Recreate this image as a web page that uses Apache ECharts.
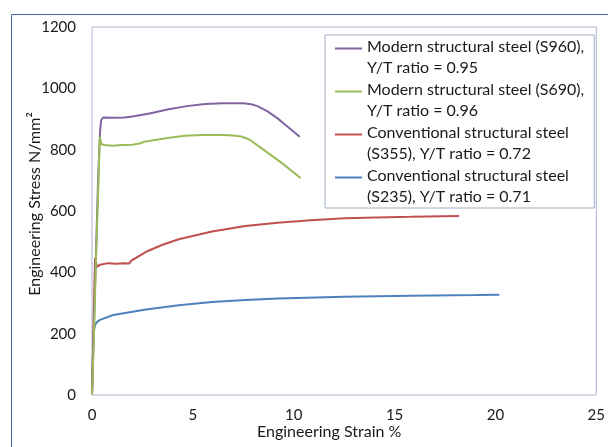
<!DOCTYPE html>
<html>
<head>
<meta charset="utf-8">
<script src="https://cdn.jsdelivr.net/npm/echarts@6/dist/echarts.min.js"></script>
<style>
  html, body { margin: 0; padding: 0; background: #fff; }
  #main { width: 608px; height: 447px; }
</style>
</head>
<body>
<div id="main"></div>
<script>
  // engineering strain (%) and stress (N/mm2)
  var s960Strain = [0, 0.3, 0.4, 0.45, 0.55, 1.0, 1.6, 2.0, 2.85, 3.8, 4.7, 5.6, 6.5, 7.5, 7.9, 8.2, 8.7, 9.2, 9.7, 10.3];
  var s960Stress = [0, 700, 860, 895, 905, 904, 905, 908, 918, 932, 942, 949, 951, 951, 948, 942, 925, 902, 875, 842];

  var s690Strain = [0, 0.1, 0.2, 0.3, 0.39, 0.47, 0.6, 1.0, 1.5, 2.0, 2.35, 2.6, 3.66, 4.6, 5.5, 6.5, 7.0, 7.4, 7.8, 8.5, 9.5, 10.35];
  var s690Stress = [0, 200, 450, 650, 842, 818, 815, 813, 815, 816, 820, 826, 837, 845, 848, 848, 846, 843, 833, 800, 752, 707];

  var s355Strain = [0, 0.1, 0.15, 0.25, 0.4, 0.8, 1.2, 1.6, 1.85, 1.95, 2.3, 2.68, 3.5, 4.3, 5.95, 7.6, 9.2, 10.85, 12.5, 14.1, 15.8, 18.2];
  var s355Stress = [0, 300, 447, 418, 425, 430, 428, 430, 429, 438, 452, 467, 490, 508, 533, 551, 562, 570, 576, 579, 581, 584];

  var s235Strain = [0, 0.05, 0.1, 0.15, 0.25, 0.39, 1.05, 2.68, 4.3, 5.95, 7.6, 9.2, 12.5, 15.8, 19.0, 20.2];
  var s235Stress = [0, 147, 212, 228, 238, 245, 261, 279, 293, 303, 310, 315, 320, 324, 326, 327];

  var seriesNames = [
    'Modern structural steel (S960),\nY/T ratio = 0.95',
    'Modern structural steel (S690),\nY/T ratio = 0.96',
    'Conventional structural steel\n(S355), Y/T ratio = 0.72',
    'Conventional structural steel\n(S235), Y/T ratio = 0.71'
  ];
  var seriesColors = ['#8064a2', '#9bbb59', '#c0504d', '#4f81bd'];
  var xTicks = [0, 5, 10, 15, 20, 25];
  var yTicks = [0, 200, 400, 600, 800, 1000, 1200];

  function pairs(xs, ys) {
    var out = [];
    for (var i = 0; i < xs.length; i++) out.push([xs[i], ys[i]]);
    return out;
  }

  var curves = [
    pairs(s960Strain, s960Stress),
    pairs(s690Strain, s690Stress),
    pairs(s355Strain, s355Stress),
    pairs(s235Strain, s235Stress)
  ];

  var font = 'Lato, "Open Sans", sans-serif';
  var textColor = '#1a1a1a';
  // legend line sits on the first text line of each two-line entry
  var legendIcon = 'path://M0,-1 H30 V1 H0 Z M0,21 H0.01 V21.01 H0 Z';

  var series = [];
  for (var i = 0; i < curves.length; i++) {
    series.push({
      name: seriesNames[i],
      type: 'line',
      data: curves[i],
      showSymbol: false,
      symbol: 'none',
      color: seriesColors[i],
      lineStyle: { width: 2, color: seriesColors[i] },
      z: 10 - i
    });
  }
  // S690 is drawn over S960 in the picture
  series[1].z = 11;

  var myChart = echarts.init(document.getElementById('main'));
  var option = {
    animation: false,
    textStyle: { fontFamily: font },
    graphic: [{
      type: 'rect',
      shape: { x: 11.5, y: 14.5, width: 700, height: 600 },
      style: { fill: 'none', stroke: '#4a64a2', lineWidth: 1 },
      silent: true,
      z: -1
    }],
    grid: {
      left: 92, top: 27, right: 6, bottom: 52,
      show: true,
      borderColor: '#aab6cd',
      borderWidth: 1
    },
    legend: {
      orient: 'vertical',
      left: 325,
      top: 35,
      padding: [1, 10, 0, 10],
      itemGap: 0,
      itemWidth: 27,
      itemHeight: 21,
      icon: legendIcon,
      borderColor: '#9eacc8',
      borderWidth: 1,
      backgroundColor: '#fff',
      data: seriesNames,
      textStyle: { fontFamily: font, fontSize: 16, lineHeight: 21.5, color: textColor }
    },
    xAxis: {
      type: 'value',
      min: xTicks[0],
      max: xTicks[xTicks.length - 1],
      interval: 5,
      name: 'Engineering Strain %',
      nameLocation: 'middle',
      nameGap: 29,
      nameMoveOverlap: false,
      nameTextStyle: { fontFamily: font, fontSize: 16, color: textColor, padding: [0, 30, 0, 0] },
      axisLine: { show: false },
      axisTick: { show: false },
      splitLine: { show: false },
      axisLabel: { fontFamily: font, fontSize: 15, color: textColor, margin: 13 }
    },
    yAxis: {
      type: 'value',
      min: yTicks[0],
      max: yTicks[yTicks.length - 1],
      interval: 200,
      name: 'Engineering Stress N/mm²',
      nameLocation: 'middle',
      nameGap: 49,
      nameMoveOverlap: false,
      nameTextStyle: { fontFamily: font, fontSize: 16, color: textColor, padding: [0, 0, 0, 14] },
      axisLine: { show: false },
      axisTick: { show: false },
      splitLine: { show: false },
      axisLabel: {
        fontFamily: font, fontSize: 15, color: textColor, margin: 16,
        formatter: function (v) { return String(v); }
      }
    },
    series: series
  };
  myChart.setOption(option);
</script>
</body>
</html>
